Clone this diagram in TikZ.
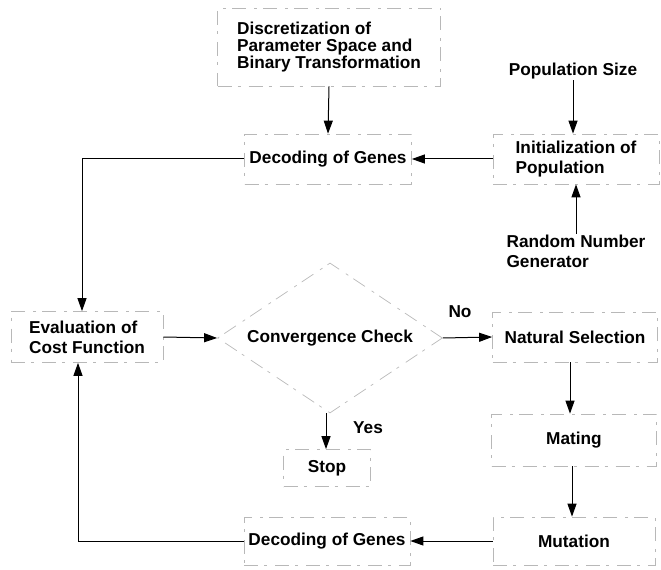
\documentclass[tikz,border=0pt]{standalone}
\usepackage{fontspec}
\setmainfont{Liberation Sans}
\usetikzlibrary{arrows.meta,shapes.geometric}

\tikzset{
    box/.style={draw=black!28, line width=0.7bp, dash pattern=on 14bp off 6bp on 3bp off 8bp,
        inner sep=0pt, font=\fontsize{17.3}{20}\selectfont\bfseries, align=left},
    lbl/.style={inner sep=1bp, font=\fontsize{17.3}{20}\selectfont\bfseries, align=left},
    arr/.style={line width=1bp, -{Triangle[length=13bp,width=9bp]}}
}

\begin{document}
\begin{tikzpicture}[x=1bp, y=-1bp]
        \useasboundingbox (0,0) rectangle (661,570);

        % boxes
        \node[box, minimum width=223bp, minimum height=78bp, font=\fontsize{17.3}{17}\selectfont\bfseries]
            (disc) at (329,47) {Discretization of\\Parameter Space and\\Binary Transformation};
        \node[box, minimum width=167bp, minimum height=50bp] (decA) at (328,159) {Decoding of Genes};
        \node[box, minimum width=166bp, minimum height=50bp] (init) at (576,159) {Initialization of\\Population};
        \node[box, minimum width=152bp, minimum height=51bp] (eval) at (87,337) {Evaluation of\\Cost Function};
        \node[box, shape=diamond, aspect=1.5, minimum width=225bp, minimum height=150bp] (conv) at (330,338) {Convergence Check};
        \node[box, minimum width=165bp, minimum height=50bp] (sel) at (575,337) {Natural Selection};
        \node[box, minimum width=165bp, minimum height=52bp] (mate) at (574,440) {Mating};
        \node[box, minimum width=162bp, minimum height=48bp] (mut) at (574,541) {Mutation};
        \node[box, minimum width=166bp, minimum height=48bp] (decB) at (327,541) {Decoding of Genes};
        \node[box, minimum width=87bp, minimum height=37bp] (stop) at (327,468) {Stop};

        % free labels
        \node[lbl] (pop) at (573,71) {Population Size};
        \node[lbl] (rng) at (576,251) {Random Number\\Generator};
        \node[lbl] (no) at (460,312) {No};
        \node[lbl] (yes) at (368,428) {Yes};

        % connectors
        \draw[arr] (disc.south) -- (decA.north);
        \draw[arr] (pop.south) -- (pop.south |- init.north);
        \draw[arr] (rng.north) -- (rng.north |- init.south);
        \draw[arr] (init.west) -- (decA.east);
        \draw[arr] (decA.west) -| ([xshift=-5bp]eval.north);
        \draw[arr] (eval.east) -- (conv.west);
        \draw[arr] (conv.east) -- (sel.west);
        \draw[arr] ([xshift=-5bp]sel.south) -- ([xshift=-5bp]sel.south |- mate.north);
        \draw[arr] ([xshift=-2bp]mate.south) -- ([xshift=-2bp]mate.south |- mut.north);
        \draw[arr] (mut.west) -- (decB.east);
        \draw[arr] (decB.west) -| ([xshift=-9bp]eval.south);
        \draw[arr] ([xshift=-4bp]conv.south) -- ([xshift=-4bp]conv.south |- stop.north);
    \end{tikzpicture}
\end{document}
